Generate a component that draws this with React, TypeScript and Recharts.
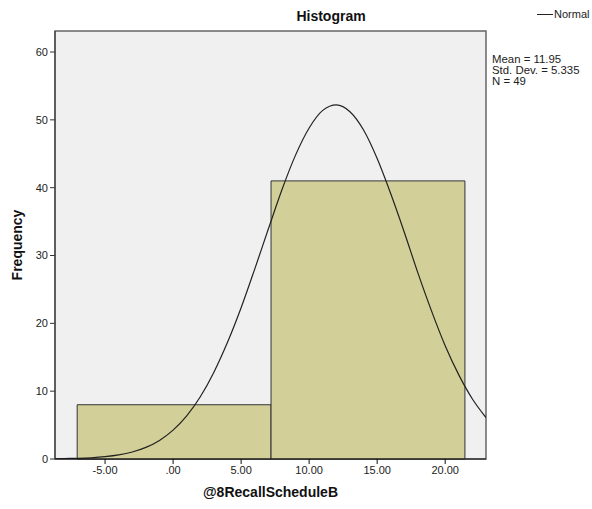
import {
  ComposedChart,
  Line,
  ReferenceArea,
  XAxis,
  YAxis,
  CartesianGrid,
  Label,
} from 'recharts';

// histogram bins
const binEdges = [-7.05, 7.2, 21.45];
const binCounts = [8, 41];

// normal curve
const curveX = [
  -8.68, -8, -7, -6, -5, -4, -3, -2, -1, 0, 1, 2, 3, 4, 5, 6, 7, 8, 9, 10, 11, 12,
  13, 14, 15, 16, 17, 18, 19, 20, 21, 22, 23,
];
const curveY = [
  0.04, 0.07, 0.1, 0.18, 0.34, 0.6, 1.03, 1.71, 2.74, 4.25, 6.35, 9.17, 12.8, 17.2,
  22.3, 28.0, 33.9, 39.7, 44.8, 48.8, 51.4, 52.2, 51.2, 48.5, 44.3, 39.1, 33.4, 27.4,
  21.8, 16.7, 12.4, 8.85, 6.11,
];

const xTicks = [-5, 0, 5, 10, 15, 20];
const yTicks = [0, 10, 20, 30, 40, 50, 60];
const statLines = ['Mean = 11.95', 'Std. Dev. = 5.335', 'N = 49'];

const xDomain: [number, number] = [-8.68, 23];
const yDomain: [number, number] = [0, 63.1];

const curve = curveX.map((x, i) => ({ x, y: curveY[i] }));

const font = '"Liberation Sans", Arial, sans-serif';

function formatX(v: number) {
  if (v === 0) return '.00';
  return v.toFixed(2);
}

export default function App() {
  return (
    <div style={{ position: 'relative', width: 592, height: 509, background: '#fff', fontFamily: font }}>
      <style>{'body{margin:0}'}</style>
      <ComposedChart
        width={592}
        height={509}
        data={curve}
        margin={{ top: 31, right: 106, bottom: 20, left: 15 }}
      >
        <CartesianGrid fill="#f0f0f0" horizontal={false} vertical={false} />
        <XAxis
          dataKey="x"
          type="number"
          domain={xDomain}
          ticks={xTicks}
          tickFormatter={formatX}
          height={30}
          stroke="#111"
          tickSize={5}
          tick={{ fill: '#222', fontSize: 11, fontFamily: font }}
          allowDataOverflow
        >
          <Label
            value="@8RecallScheduleB"
            position="insideBottom"
            offset={-8}
            style={{ fontSize: 14, fontWeight: 'bold', fill: '#111', fontFamily: font }}
          />
        </XAxis>
        <YAxis
          type="number"
          domain={yDomain}
          ticks={yTicks}
          width={40}
          stroke="#333"
          tickSize={5}
          tick={{ fill: '#222', fontSize: 11, fontFamily: font }}
          allowDataOverflow
        >
          <Label
            value="Frequency"
            angle={-90}
            position="insideLeft"
            offset={2}
            style={{ fontSize: 14, fontWeight: 'bold', fill: '#111', fontFamily: font, textAnchor: 'middle' }}
          />
        </YAxis>
        {/* plot frame */}
        <ReferenceArea
          x1={xDomain[0]}
          x2={xDomain[1]}
          y1={yDomain[0]}
          y2={yDomain[1]}
          fill="none"
          stroke="#666"
          strokeWidth={1.5}
          ifOverflow="visible"
        />
        {binCounts.map((c, i) => (
          <ReferenceArea
            key={i}
            x1={binEdges[i]}
            x2={binEdges[i + 1]}
            y1={0}
            y2={c}
            fill="#d3cf98"
            fillOpacity={1}
            stroke="#333"
            strokeWidth={1}
          />
        ))}
        <Line
          dataKey="y"
          type="monotone"
          stroke="#222"
          strokeWidth={1.2}
          dot={false}
          isAnimationActive={false}
        />
      </ComposedChart>
      <div
        style={{
          position: 'absolute',
          left: 331,
          top: 8,
          transform: 'translateX(-50%)',
          fontSize: 14,
          fontWeight: 'bold',
          color: '#111',
          whiteSpace: 'nowrap',
        }}
      >
        Histogram
      </div>
      <div
        style={{
          position: 'absolute',
          left: 537,
          top: 8,
          fontSize: 11,
          color: '#222',
          display: 'flex',
          alignItems: 'center',
        }}
      >
        <span style={{ display: 'inline-block', width: 16, height: 1, background: '#222', marginRight: 1 }} />
        Normal
      </div>
      <div
        style={{
          position: 'absolute',
          left: 492,
          top: 54,
          fontSize: 11.4,
          lineHeight: '11px',
          color: '#222',
        }}
      >
        {statLines.map((s) => (
          <div key={s}>{s}</div>
        ))}
      </div>
    </div>
  );
}
